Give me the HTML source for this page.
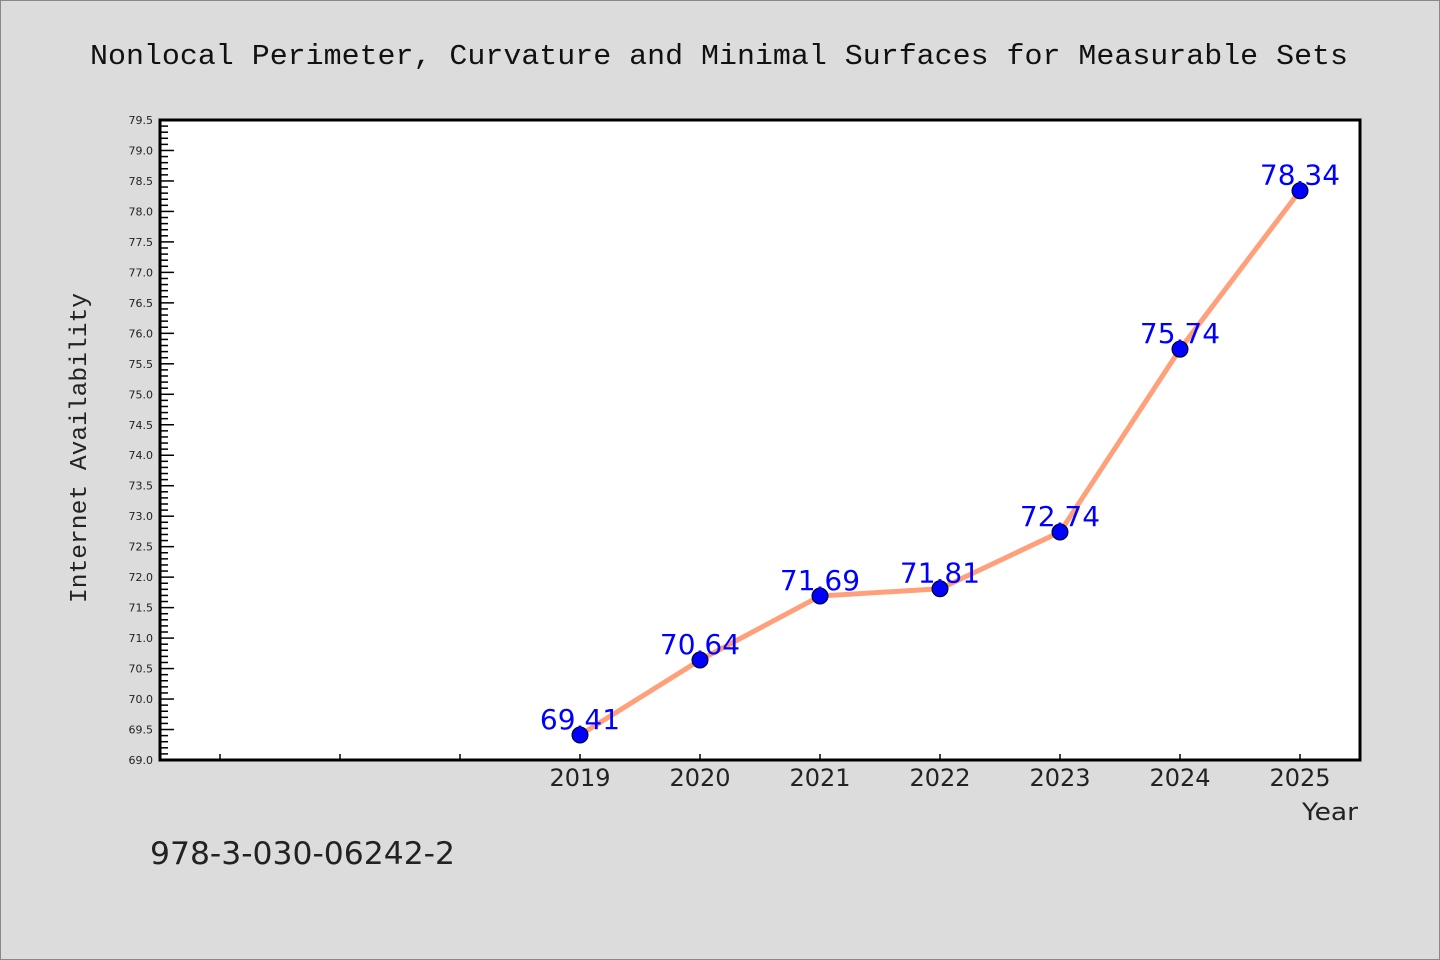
<!DOCTYPE html>
<html><head><meta charset="utf-8"><style>
html,body{margin:0;padding:0;background:#dcdcdc;overflow:hidden;width:1440px;height:960px;}
svg{display:block;}
svg text{font-family:"WenQuanYi Zen Hei","WenQuanYi Zen Hei Sharp","DejaVu Sans",sans-serif;}
svg text.mono{font-family:"WenQuanYi Zen Hei Mono","WenQuanYi Zen Hei","Liberation Mono",monospace;}
</style></head><body>
<svg width="1440" height="960" xmlns="http://www.w3.org/2000/svg">
<rect x="0.5" y="0.5" width="1439" height="959" fill="#dcdcdc" stroke="#888"/>
<text class="mono" x="90" y="64" font-size="29" textLength="1258" lengthAdjust="spacingAndGlyphs" fill="#111">Nonlocal Perimeter, Curvature and Minimal Surfaces for Measurable Sets</text>
<rect x="160" y="120" width="1200" height="640" fill="#fff"/>
<g id="axes"></g>
<g id="marks"></g>
<rect x="160" y="120" width="1200" height="640" fill="none" stroke="#000" stroke-width="3"/>
<text class="mono" x="86" y="603" font-size="24" textLength="310" lengthAdjust="spacingAndGlyphs" fill="#222" transform="rotate(-90 86 603)">Internet Availability</text>
<text x="1302" y="820" font-size="24" textLength="56" lengthAdjust="spacingAndGlyphs" fill="#222">Year</text>
<text x="150" y="864" font-size="31" textLength="305" lengthAdjust="spacingAndGlyphs" fill="#222">978-3-030-06242-2</text>
</svg>
<script>
const years=[2019,2020,2021,2022,2023,2024,2025];
const values=[69.41,70.64,71.69,71.81,72.74,75.74,78.34];
const labels=["69.41","70.64","71.69","71.81","72.74","75.74","78.34"];
const yMin=69.0,yMax=79.5,xMin=2015.5,xMax=2025.5;
const L=160,R=1360,T=120,B=760;
const ns="http://www.w3.org/2000/svg";
const xs=v=>L+(v-xMin)/(xMax-xMin)*(R-L);
const ys=v=>B-(v-yMin)/(yMax-yMin)*(B-T);
function mk(tag,attrs,parent){const e=document.createElementNS(ns,tag);for(const k in attrs)e.setAttribute(k,attrs[k]);parent.appendChild(e);return e;}
const ax=document.getElementById('axes'),mg=document.getElementById('marks');
for(let i=0;i<=105;i++){const v=yMin+i*0.1;const y=ys(v);const major=i%5===0;
 const t=mk('line',{x1:L,x2:L+(major?14:8),y1:y,y2:y,stroke:'#000','stroke-width':1.5},ax);
 
 if(major){const tx=mk('text',{x:L-7,y:y+4,'font-size':11,'text-anchor':'end',fill:'#222'},ax);tx.textContent=v.toFixed(1);
 }}
for(let yr=2016;yr<=2025;yr++){const x=xs(yr);
 const t=mk('line',{x1:x,x2:x,y1:B,y2:B-6,stroke:'#000','stroke-width':1.5},ax);
 }
years.forEach(yr=>{const tx=mk('text',{x:xs(yr),y:B+26,'font-size':24,'text-anchor':'middle',fill:'#222'},ax);tx.textContent=yr;
 });
const pl=mk('polyline',{points:years.map((y,i)=>xs(y)+','+ys(values[i])).join(' '),fill:'none',stroke:'#ffa07a','stroke-width':5},mg);

years.forEach((yr,i)=>{const c=mk('circle',{cx:xs(yr),cy:ys(values[i]),r:8,fill:'#0000ff',stroke:'#000','stroke-width':1},mg);
 
 const t=mk('text',{x:xs(yr),y:ys(values[i])-6,'font-size':28,'text-anchor':'middle',fill:'#0000ff'},mg);t.textContent=labels[i];
 });
</script>
</body></html>
